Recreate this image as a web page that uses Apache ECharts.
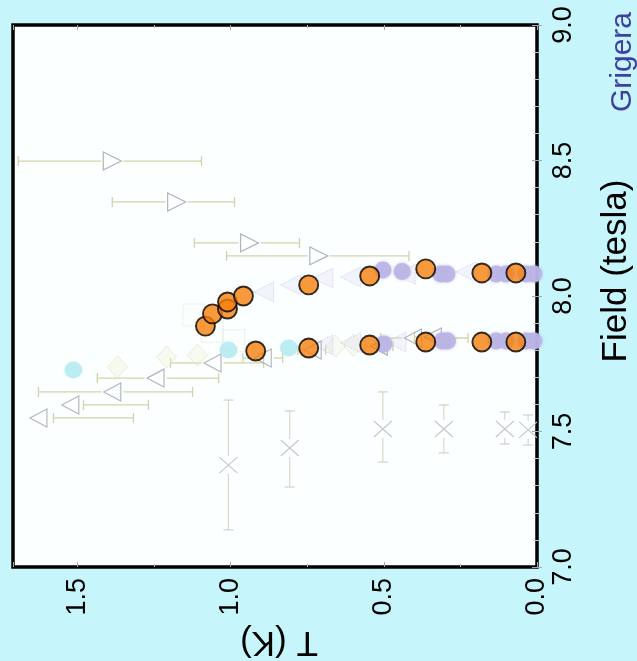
<!DOCTYPE html>
<html>
<head>
<meta charset="utf-8">
<title>Phase boundary: T vs Field</title>
<script src="https://cdn.jsdelivr.net/npm/echarts/dist/echarts.min.js"></script>
<style>
  html, body { margin: 0; padding: 0; background: #c6f6fb; }
  #chart { width: 637px; height: 661px; }
</style>
</head>
<body>
<div id="chart"></div>
<script>
// Axis ticks
const tempTicks = [0.0, 0.5, 1.0, 1.5];
const fieldTicks = [7.0, 7.5, 8.0, 8.5, 9.0];
const tempMax = 1.71;

// Orange circles, upper branch (T in K, field in tesla)
const upperT = [1.082, 1.059, 1.010, 1.010, 0.958, 0.745, 0.546, 0.363, 0.180, 0.069];
const upperF = [7.889, 7.934, 7.952, 7.978, 8.000, 8.041, 8.074, 8.100, 8.085, 8.085];
// Orange circles, lower branch
const lowerT = [0.918, 0.745, 0.546, 0.363, 0.180, 0.069];
const lowerF = [7.797, 7.808, 7.819, 7.830, 7.830, 7.830];

// Grigera (lavender circles)
const grigeraT = [0.503, 0.440, 0.314, 0.294, 0.134, 0.101, 0.036, 0.010, 0.500, 0.310, 0.292, 0.134, 0.101, 0.036, 0.010];
const grigeraF = [8.096, 8.090, 8.081, 8.081, 8.081, 8.081, 8.081, 8.081, 7.823, 7.834, 7.834, 7.834, 7.834, 7.834, 7.834];

// Cyan circles
const cyanT = [1.513, 1.007, 0.810];
const cyanF = [7.727, 7.801, 7.808];

// Open left-pointing triangles with temperature error bars
const leftTriT  = [1.627, 1.523, 1.386, 1.245, 1.059, 0.895, 0.732, 0.516, 0.405, 0.340];
const leftTriF  = [7.550, 7.598, 7.646, 7.697, 7.753, 7.771, 7.801, 7.815, 7.845, 7.849];
const leftTriLo = [1.578, 1.480, 1.627, 1.435, 1.196, 0.960, 0.780, 0.560, 0.510, 0.400];
const leftTriHi = [1.317, 1.268, 1.124, 1.039, 0.892, 0.830, 0.690, 0.470, 0.225, 0.290];

// Open right-pointing triangles with temperature error bars
const rightTriT  = [1.386, 1.176, 0.938, 0.712];
const rightTriF  = [8.498, 8.347, 8.196, 8.148];
const rightTriLo = [1.693, 1.386, 1.118, 1.013];
const rightTriHi = [1.095, 0.987, 0.775, 0.418];

// Stippled diamonds
const diamondT = [1.369, 1.209, 1.108, 0.657, 0.600];
const diamondF = [7.738, 7.775, 7.782, 7.815, 7.819];

// Dotted squares
const squareT = [1.120, 1.060, 0.990];
const squareF = [7.930, 7.870, 7.835];

// Stippled lavender triangles
const dottedTriT = [0.892, 0.804, 0.699, 0.608, 0.430, 0.232, 0.699, 0.608, 0.460];
const dottedTriF = [8.015, 8.041, 8.066, 8.070, 8.080, 8.089, 7.819, 7.827, 7.830];

// Crosses with field error bars
const crossT  = [1.007, 0.807, 0.503, 0.304, 0.105, 0.029];
const crossF  = [7.376, 7.439, 7.509, 7.509, 7.509, 7.506];
const crossLo = [7.137, 7.295, 7.387, 7.421, 7.454, 7.450];
const crossHi = [7.616, 7.576, 7.646, 7.598, 7.572, 7.561];

const zip = (...cols) => cols[0].map((_, i) => cols.map(c => c[i]));

const FONT = 'Liberation Sans, Arial, Helvetica, sans-serif';
const BAR_COLOR = '#d3d4a8';

// Horizontal (temperature) error bar, broken around the marker
function tempBar(params, api) {
  const t = api.value(0), f = api.value(1), lo = api.value(2), hi = api.value(3);
  const c = api.coord([t, f]);
  const a = api.coord([lo, f]);
  const b = api.coord([hi, f]);
  const x1 = Math.min(a[0], b[0]), x2 = Math.max(a[0], b[0]);
  const y = c[1], gap = 11, cap = 5;
  const style = { stroke: BAR_COLOR, lineWidth: 1.3 };
  const kids = [];
  if (x1 < c[0] - gap) kids.push({ type: 'line', shape: { x1: x1, y1: y, x2: Math.min(x2, c[0] - gap), y2: y }, style });
  if (x2 > c[0] + gap) kids.push({ type: 'line', shape: { x1: Math.max(x1, c[0] + gap), y1: y, x2: x2, y2: y }, style });
  kids.push({ type: 'line', shape: { x1: x1, y1: y - cap, x2: x1, y2: y + cap }, style });
  kids.push({ type: 'line', shape: { x1: x2, y1: y - cap, x2: x2, y2: y + cap }, style });
  return { type: 'group', children: kids };
}

// Cross marker with vertical (field) error bar
function crossItem(params, api) {
  const t = api.value(0), f = api.value(1), lo = api.value(2), hi = api.value(3);
  const c = api.coord([t, f]);
  const a = api.coord([t, lo]);
  const b = api.coord([t, hi]);
  const y1 = Math.min(a[1], b[1]), y2 = Math.max(a[1], b[1]);
  const x = c[0], gap = 9, cap = 5, hw = 9, hh = 8;
  const barStyle = { stroke: '#d6d6c0', lineWidth: 1.1 };
  const capStyle = { stroke: '#cdcdc4', lineWidth: 1.1 };
  const xStyle = { stroke: '#c8c8d0', lineWidth: 1.2 };
  return {
    type: 'group',
    children: [
      { type: 'line', shape: { x1: x, y1: y1, x2: x, y2: c[1] - gap }, style: barStyle },
      { type: 'line', shape: { x1: x, y1: c[1] + gap, x2: x, y2: y2 }, style: barStyle },
      { type: 'line', shape: { x1: x - cap, y1: y1, x2: x + cap, y2: y1 }, style: capStyle },
      { type: 'line', shape: { x1: x - cap, y1: y2, x2: x + cap, y2: y2 }, style: capStyle },
      { type: 'line', shape: { x1: x - hw, y1: c[1] - hh, x2: x + hw, y2: c[1] + hh }, style: xStyle },
      { type: 'line', shape: { x1: x - hw, y1: c[1] + hh, x2: x + hw, y2: c[1] - hh }, style: xStyle }
    ]
  };
}

const chart = echarts.init(document.getElementById('chart'), null, { renderer: 'canvas' });

const tickStyle = { show: true, inside: true, length: 5, lineStyle: { color: '#a8a8a8', width: 1 } };
const minorStyle = (n) => ({ show: true, splitNumber: n, length: 3, lineStyle: { color: '#c0c0c0', width: 1 } });

const option = {
  backgroundColor: '#c6f6fb',
  animation: false,
  grid: {
    left: 13, right: 100, top: 25, bottom: 94,
    show: true, borderColor: '#000', borderWidth: 3.5, backgroundColor: '#fbffff'
  },
  xAxis: [
    {
      type: 'value', position: 'bottom', inverse: true,
      min: tempTicks[0], max: tempMax, interval: tempTicks[1] - tempTicks[0],
      axisLine: { show: false }, splitLine: { show: false },
      axisTick: tickStyle, minorTick: minorStyle(2),
      axisLabel: {
        rotate: 90, margin: 11, fontSize: 27, color: '#000', fontFamily: FONT,
        showMaxLabel: false,
        formatter: v => tempTicks.some(t => Math.abs(t - v) < 1e-6) ? v.toFixed(1) : ''
      }
    },
    {
      type: 'value', position: 'top', inverse: true,
      min: tempTicks[0], max: tempMax, interval: tempTicks[1] - tempTicks[0],
      axisLine: { show: false }, splitLine: { show: false },
      axisTick: tickStyle, minorTick: minorStyle(2), axisLabel: { show: false }
    }
  ],
  yAxis: [
    {
      type: 'value', position: 'right',
      min: fieldTicks[0], max: fieldTicks[fieldTicks.length - 1], interval: fieldTicks[1] - fieldTicks[0],
      axisLine: { show: false }, splitLine: { show: false },
      axisTick: tickStyle, minorTick: minorStyle(5),
      axisLabel: { rotate: 90, margin: 13, fontSize: 27, color: '#000', fontFamily: FONT, formatter: v => v.toFixed(1) }
    },
    {
      type: 'value', position: 'left',
      min: fieldTicks[0], max: fieldTicks[fieldTicks.length - 1], interval: fieldTicks[1] - fieldTicks[0],
      axisLine: { show: false }, splitLine: { show: false },
      axisTick: tickStyle, minorTick: minorStyle(5), axisLabel: { show: false }
    }
  ],
  graphic: [
    {
      type: 'text', x: 279, y: 642, rotation: Math.PI,
      style: { text: 'T (K)', font: '35px ' + FONT, fill: '#000', align: 'center', verticalAlign: 'middle' }
    },
    {
      type: 'text', x: 616, y: 271, rotation: Math.PI / 2,
      style: { text: 'Field (tesla)', font: '35px ' + FONT, fill: '#000', align: 'center', verticalAlign: 'middle' }
    },
    {
      type: 'text', x: 623, y: 62, rotation: Math.PI / 2,
      style: { text: 'Grigera', font: '30px ' + FONT, fill: '#3f3fa0', align: 'center', verticalAlign: 'middle' }
    }
  ],
  series: [
    {
      name: 'cross', type: 'custom', clip: true, z: 2,
      renderItem: crossItem,
      data: zip(crossT, crossF, crossLo, crossHi)
    },
    {
      name: 'leftTriBars', type: 'custom', clip: true, z: 2,
      renderItem: tempBar,
      data: zip(leftTriT, leftTriF, leftTriLo, leftTriHi)
    },
    {
      name: 'rightTriBars', type: 'custom', clip: true, z: 2,
      renderItem: tempBar,
      data: zip(rightTriT, rightTriF, rightTriLo, rightTriHi)
    },
    {
      name: 'squares', type: 'scatter', z: 3, symbol: 'rect', symbolSize: 22,
      itemStyle: { color: 'rgba(235,235,210,0.08)', borderColor: '#deded0', borderWidth: 1, borderType: 'dotted' },
      data: zip(squareT, squareF)
    },
    {
      name: 'diamonds', type: 'scatter', z: 3, symbol: 'diamond', symbolSize: [20, 22],
      itemStyle: { color: 'rgba(236,236,200,0.35)', borderColor: '#e0e0bc', borderWidth: 1, borderType: 'dotted' },
      data: zip(diamondT, diamondF)
    },
    {
      name: 'dottedTri', type: 'scatter', z: 3, symbol: 'triangle', symbolSize: [20, 20], symbolRotate: 90,
      itemStyle: { color: 'rgba(220,214,242,0.35)', borderColor: '#cdc6ea', borderWidth: 1, borderType: 'dotted' },
      data: zip(dottedTriT, dottedTriF)
    },
    {
      name: 'leftTri', type: 'scatter', z: 4, symbol: 'triangle', symbolSize: [18, 17], symbolRotate: 90,
      itemStyle: { color: 'rgba(255,255,255,0)', borderColor: '#a4a4ac', borderWidth: 1.2 },
      data: zip(leftTriT, leftTriF)
    },
    {
      name: 'rightTri', type: 'scatter', z: 4, symbol: 'triangle', symbolSize: [18, 18], symbolRotate: -90,
      itemStyle: { color: 'rgba(255,255,255,0)', borderColor: '#a0a0a8', borderWidth: 1.2 },
      data: zip(rightTriT, rightTriF)
    },
    {
      name: 'Grigera', type: 'scatter', z: 5, symbolSize: 17,
      itemStyle: { color: '#bab5e6', opacity: 0.9, shadowBlur: 3, shadowColor: 'rgba(180,175,225,0.8)' },
      data: zip(grigeraT, grigeraF)
    },
    {
      name: 'cyan', type: 'scatter', z: 5, symbolSize: [18, 17],
      itemStyle: { color: '#ace9ef' },
      data: zip(cyanT, cyanF)
    },
    {
      name: 'upper', type: 'scatter', z: 6, symbolSize: 19,
      itemStyle: { color: '#f67f0c', borderColor: '#000', borderWidth: 1.9 },
      data: zip(upperT, upperF)
    },
    {
      name: 'lower', type: 'scatter', z: 6, symbolSize: 19,
      itemStyle: { color: '#f67f0c', borderColor: '#000', borderWidth: 1.9 },
      data: zip(lowerT, lowerF)
    }
  ]
};

chart.setOption(option);
</script>
</body>
</html>
